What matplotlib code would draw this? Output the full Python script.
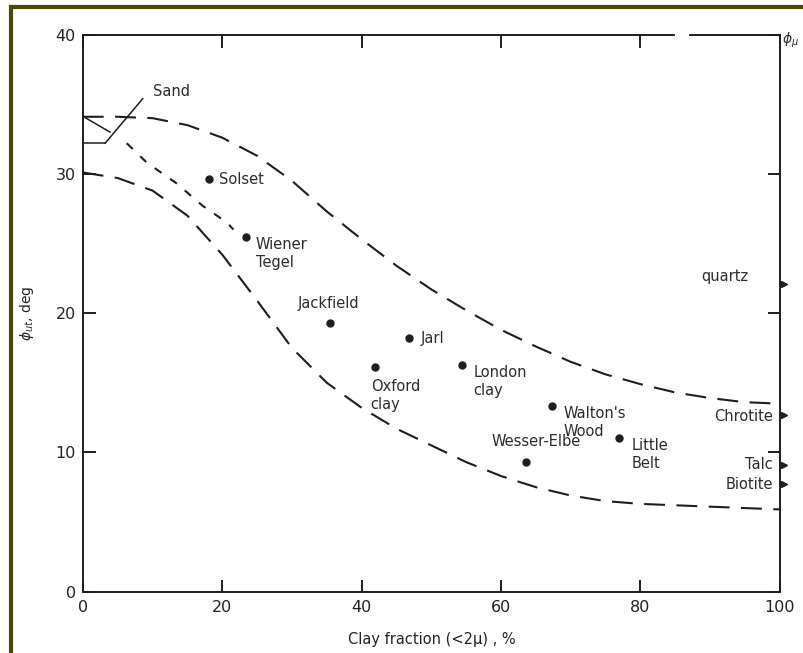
import matplotlib.pyplot as plt
from matplotlib.patches import Rectangle

# ---------------- data ----------------
upper_x = [0, 5, 10, 15, 20, 25, 30, 35, 40, 45, 50, 55, 60, 65, 70, 75, 80, 85, 90, 95, 100]
upper_y = [34.1, 34.1, 34.0, 33.5, 32.6, 31.3, 29.5, 27.3, 25.3, 23.4, 21.7, 20.2, 18.8,
           17.6, 16.5, 15.6, 14.9, 14.3, 13.9, 13.6, 13.5]

lower_x = [0, 5, 10, 15, 20, 25, 30, 35, 40, 45, 50, 55, 60, 65, 70, 75, 80, 85, 90, 95, 100]
lower_y = [30.1, 29.7, 28.8, 27.0, 24.2, 20.9, 17.5, 15.0, 13.2, 11.7, 10.5, 9.3, 8.3,
           7.5, 6.9, 6.5, 6.3, 6.2, 6.1, 6.0, 5.9]

mid_x = [6.3, 9.2, 13.5, 17.2, 20.7, 21.6]
mid_y = [32.2, 30.8, 29.3, 27.7, 26.5, 26.0]

# sand wedge near the origin
sand_x = [0.3, 3.9]
sand_y = [34.05, 33.0]
sand_base_x = [0, 3.2]
sand_base_y = [32.2, 32.2]
sand_lead_x = [3.2, 8.6]
sand_lead_y = [32.2, 35.4]

soil_names = ["Solset", "Wiener\nTegel", "Jackfield", "Jarl", "Oxford\nclay", "London\nclay",
              "Walton's\nWood", "Wesser-Elbe", "Little\nBelt"]
soil_x = [18.1, 23.4, 35.4, 46.8, 41.9, 54.4, 67.3, 63.6, 76.9]
soil_y = [29.6, 25.5, 19.3, 18.2, 16.1, 16.3, 13.3, 9.3, 11.0]

mineral_names = ["quartz", "Chrotite", "Talc", "Biotite"]
mineral_y = [22.1, 12.7, 9.1, 7.7]

# ---------------- figure ----------------
fig = plt.figure(figsize=(8.04, 6.53), dpi=100)
ax = fig.add_axes([0.103, 0.094, 0.867, 0.853])

ink = "#1e1e1e"
dash = (0, (10, 5.5))
ax.plot(upper_x, upper_y, color=ink, lw=1.5, linestyle=dash, clip_on=False)
ax.plot(lower_x, lower_y, color=ink, lw=1.5, linestyle=dash, clip_on=False)
ax.plot(mid_x, mid_y, color=ink, lw=1.5, linestyle=(0, (4, 5)))
ax.plot(sand_x, sand_y, color=ink, lw=1.1)
ax.plot(sand_base_x, sand_base_y, color=ink, lw=1.1, clip_on=False)
ax.plot(sand_lead_x, sand_lead_y, color=ink, lw=1.1)
ax.text(10.0, 35.9, "Sand", fontsize=10.5, color="#2c2c2c", va="center")

ax.plot(soil_x, soil_y, "o", color=ink, ms=5, linestyle="none")

lbl = dict(fontsize=10.5, color="#2c2c2c", linespacing=1.25)
ax.text(19.6, 29.6, soil_names[0], va="center", **lbl)
ax.text(24.8, 25.5, soil_names[1], va="top", **lbl)
ax.text(35.2, 20.7, soil_names[2], ha="center", va="center", **lbl)
ax.text(48.4, 18.2, soil_names[3], va="center", **lbl)
ax.text(41.3, 15.3, soil_names[4], va="top", **lbl)
ax.text(56.0, 16.3, soil_names[5], va="top", **lbl)
ax.text(68.9, 13.3, soil_names[6], va="top", **lbl)
ax.text(65.0, 10.8, soil_names[7], ha="center", va="center", **lbl)
ax.text(78.8, 11.0, soil_names[8], va="top", **lbl)

# mineral values marked on the right axis
ax.plot([100.6] * len(mineral_y), mineral_y, ">", color=ink, ms=4.5, clip_on=False)
ax.text(95.5, 22.6, mineral_names[0], ha="right", va="center", **lbl)
ax.text(99.0, 12.6, mineral_names[1], ha="right", va="center", **lbl)
ax.text(99.0, 9.1, mineral_names[2], ha="right", va="center", **lbl)
ax.text(99.0, 7.7, mineral_names[3], ha="right", va="center", **lbl)

ax.set_xlim(0, 100)
ax.set_ylim(0, 40)
for s in ax.spines.values():
    s.set_color(ink)
    s.set_linewidth(1.4)

ax.set_xticks([0, 20, 40, 60, 80, 100])
ax.set_yticks([0, 10, 20, 30, 40])
ax.tick_params(axis="both", direction="in", length=9, width=1.4, colors=ink,
               labelsize=11.5, top=True, right=True, labelcolor="#222222")
ax.tick_params(axis="x", pad=6)
ax.tick_params(axis="y", pad=5)

# small gap in the top frame line
ax.plot([85.3, 86.7], [40, 40], color="white", lw=3, clip_on=False, zorder=5)

ax.set_xlabel("Clay fraction (<2\u03bc) , %", fontsize=10.5, color="#222222", labelpad=12)
ax.set_ylabel(r"$\phi_{ut}$, deg", fontsize=10, color="#222222", labelpad=14)
fig.text(0.973, 0.938, r"$\phi_\mu$", fontsize=10, color="#2c2c2c", va="center")

# scanned-page frame
fig.patches.append(Rectangle((11 / 804, -0.05), 1.1, 1 - 7 / 653 + 0.05,
                             transform=fig.transFigure, fill=False,
                             edgecolor="#4a4a08", lw=3, clip_on=False))

fig.savefig("out.png", dpi=100)
